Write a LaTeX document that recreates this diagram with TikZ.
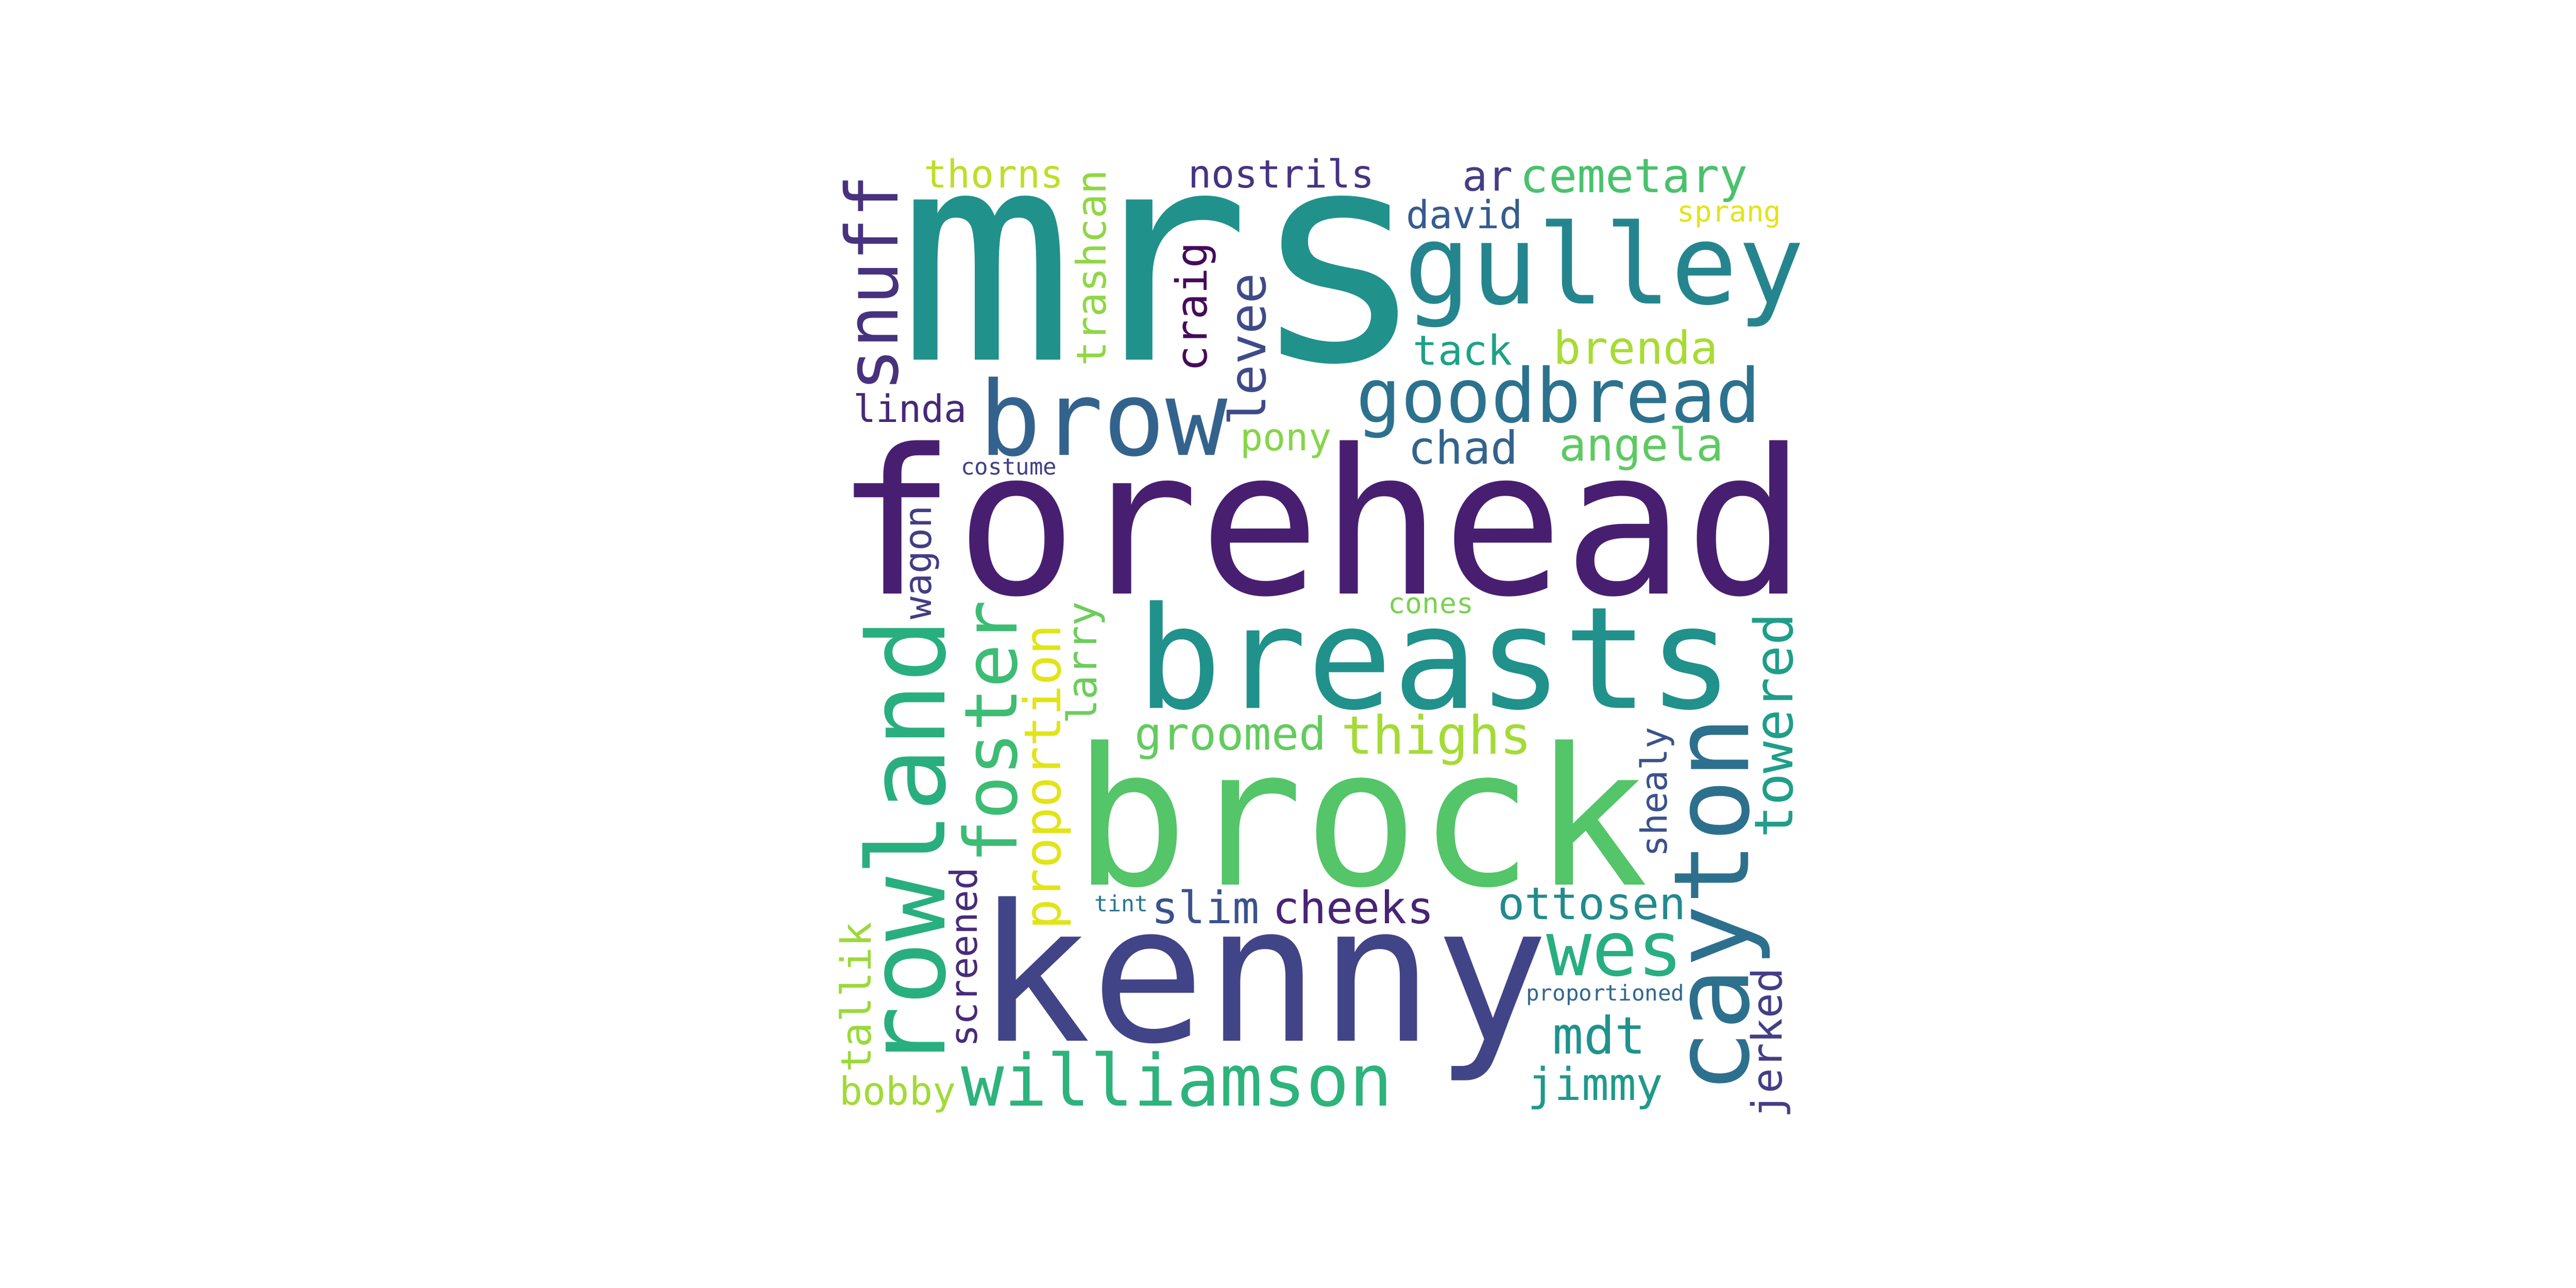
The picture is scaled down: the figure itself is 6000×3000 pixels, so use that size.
\documentclass[tikz,border=0pt]{standalone}
\usepackage{fontspec}
\newfontfamily\wcf{DejaVu Sans Mono}
\newcommand\wcs[1]{\fontsize{#1}{#1}\selectfont}
\definecolor{cMrs}{HTML}{21918C}
\definecolor{cForehead}{HTML}{481F70}
\definecolor{cBrock}{HTML}{54C568}
\definecolor{cKenny}{HTML}{414487}
\definecolor{cBreasts}{HTML}{21918C}
\definecolor{cGulley}{HTML}{25858E}
\definecolor{cBrow}{HTML}{33638D}
\definecolor{cGoodbread}{HTML}{2C728E}
\definecolor{cRowland}{HTML}{29AF7F}
\definecolor{cCayton}{HTML}{2D708E}
\definecolor{cWilliamson}{HTML}{2EB37C}
\definecolor{cSnuff}{HTML}{46327E}
\definecolor{cWes}{HTML}{28AE80}
\definecolor{cFoster}{HTML}{3DBC74}
\definecolor{cThorns}{HTML}{BDDF26}
\definecolor{cTrashcan}{HTML}{8FD744}
\definecolor{cNostrils}{HTML}{463480}
\definecolor{cCraig}{HTML}{450B5A}
\definecolor{cLevee}{HTML}{3E4A89}
\definecolor{cLinda}{HTML}{482878}
\definecolor{cPony}{HTML}{86D549}
\definecolor{cCostume}{HTML}{424086}
\definecolor{cAr}{HTML}{433E85}
\definecolor{cCemetary}{HTML}{4AC16D}
\definecolor{cDavid}{HTML}{365C8D}
\definecolor{cSprang}{HTML}{E2E418}
\definecolor{cTack}{HTML}{1FA187}
\definecolor{cBrenda}{HTML}{A8DB34}
\definecolor{cChad}{HTML}{33638D}
\definecolor{cAngela}{HTML}{5EC962}
\definecolor{cWagon}{HTML}{433D84}
\definecolor{cProportion}{HTML}{E2E418}
\definecolor{cLarry}{HTML}{6CCD5A}
\definecolor{cGroomed}{HTML}{63CB5F}
\definecolor{cCones}{HTML}{7AD151}
\definecolor{cThighs}{HTML}{A5DB36}
\definecolor{cTowered}{HTML}{1F9E89}
\definecolor{cShealy}{HTML}{3B528B}
\definecolor{cTallik}{HTML}{9BD93C}
\definecolor{cScreened}{HTML}{472C7A}
\definecolor{cBobby}{HTML}{A2DA37}
\definecolor{cTint}{HTML}{2A788E}
\definecolor{cSlim}{HTML}{3B528B}
\definecolor{cCheeks}{HTML}{482475}
\definecolor{cOttosen}{HTML}{238A8D}
\definecolor{cProportioned}{HTML}{31688E}
\definecolor{cMdt}{HTML}{20928C}
\definecolor{cJimmy}{HTML}{1F998A}
\definecolor{cJerked}{HTML}{433E85}
\tikzset{
  hword/.style={inner sep=0pt, outer sep=0pt, anchor=base, font=\wcf},
  vword/.style={hword, rotate=90}
}
\begin{document}
\begin{tikzpicture}[x=1pt,y=1pt]
\useasboundingbox (0,0) rectangle (6000,3000);
\fill[white] (0,0) rectangle (6000,3000);
% horizontal words
\node[hword, text=cThorns] (thorns) at (2315,2562) {\wcs{90}thorns};
\node[hword, text=cNostrils] (nostrils) at (2984,2562) {\wcs{90}nostrils};
\node[hword, text=cMrs] (mrs) at (2708,2162) {\wcs{682}mrs};
\node[hword, text=cBrow] (brow) at (2570,1940) {\wcs{240}brow};
\node[hword, text=cLinda] (linda) at (2120,2016) {\wcs{88}linda};
\node[hword, text=cPony] (pony) at (2995,1950) {\wcs{88}pony};
\node[hword, text=cCostume] (costume) at (2350,1894) {\wcs{53}costume};
\node[hword, text=cForehead] (forehead) at (3076,1617) {\wcs{470}forehead};
\node[hword, text=cAr] (ar) at (3465,2555) {\wcs{98}ar};
\node[hword, text=cCemetary] (cemetary) at (3806,2552) {\wcs{110}cemetary};
\node[hword, text=cDavid] (david) at (3411,2468) {\wcs{90}david};
\node[hword, text=cSprang] (sprang) at (4028,2483) {\wcs{67}sprang};
\node[hword, text=cGulley] (gulley) at (3737,2292) {\wcs{258}gulley};
\node[hword, text=cTack] (tack) at (3407,2150) {\wcs{96}tack};
\node[hword, text=cBrenda] (brenda) at (3810,2152) {\wcs{106}brenda};
\node[hword, text=cGoodbread] (goodbread) at (3630,2016) {\wcs{174}goodbread};
\node[hword, text=cChad] (chad) at (3408,1919) {\wcs{106}chad};
\node[hword, text=cAngela] (angela) at (3823,1927) {\wcs{106}angela};
\node[hword, text=cBreasts] (breasts) at (3343,1350) {\wcs{330}breasts};
\node[hword, text=cGroomed] (groomed) at (2866,1253) {\wcs{106}groomed};
\node[hword, text=cBrock] (brock) at (3170,939) {\wcs{445}brock};
\node[hword, text=cCones] (cones) at (3333,1571) {\wcs{66}cones};
\node[hword, text=cThighs] (thighs) at (3346,1244) {\wcs{123}thighs};
\node[hword, text=cBobby] (bobby) at (2091,427) {\wcs{90}bobby};
\node[hword, text=cWilliamson] (williamson) at (2741,424) {\wcs{167}williamson};
\node[hword, text=cKenny] (kenny) at (2941,575) {\wcs{443}kenny};
\node[hword, text=cTint] (tint) at (2612,877) {\wcs{52}tint};
\node[hword, text=cSlim] (slim) at (2808,849) {\wcs{104}slim};
\node[hword, text=cCheeks] (cheeks) at (3152,849) {\wcs{104}cheeks};
\node[hword, text=cOttosen] (ottosen) at (3708,859) {\wcs{104}ottosen};
\node[hword, text=cWes] (wes) at (3761,728) {\wcs{176}wes};
\node[hword, text=cProportioned] (proportioned) at (3739,669) {\wcs{51}proportioned};
\node[hword, text=cMdt] (mdt) at (3725,545) {\wcs{120}mdt};
\node[hword, text=cJimmy] (jimmy) at (3716,437) {\wcs{105}jimmy};
% vertical words
\node[vword, text=cSnuff] (snuff) at (2091,2340) {\wcs{168}snuff};
\node[vword, text=cTrashcan] (trashcan) at (2576,2376) {\wcs{95}trashcan};
\node[vword, text=cCraig] (craig) at (2811,2285) {\wcs{100}craig};
\node[vword, text=cLevee] (levee) at (2948,2186) {\wcs{118}levee};
\node[vword, text=cWagon] (wagon) at (2169,1690) {\wcs{88}wagon};
\node[vword, text=cRowland] (rowland) at (2200,1033) {\wcs{250}rowland};
\node[vword, text=cFoster] (foster) at (2368,1295) {\wcs{170}foster};
\node[vword, text=cProportion] (proportion) at (2470,1190) {\wcs{118}proportion};
\node[vword, text=cLarry] (larry) at (2554,1456) {\wcs{95}larry};
\node[vword, text=cTowered] (towered) at (4175,1310) {\wcs{124}towered};
\node[vword, text=cCayton] (cayton) at (4072,892) {\wcs{243}cayton};
\node[vword, text=cShealy] (shealy) at (3882,1155) {\wcs{84}shealy};
\node[vword, text=cTallik] (tallik) at (2029,677) {\wcs{97}tallik};
\node[vword, text=cScreened] (screened) at (2276,770) {\wcs{87}screened};
\node[vword, text=cJerked] (jerked) at (4150,570) {\wcs{97}jerked};
\end{tikzpicture}
\end{document}
